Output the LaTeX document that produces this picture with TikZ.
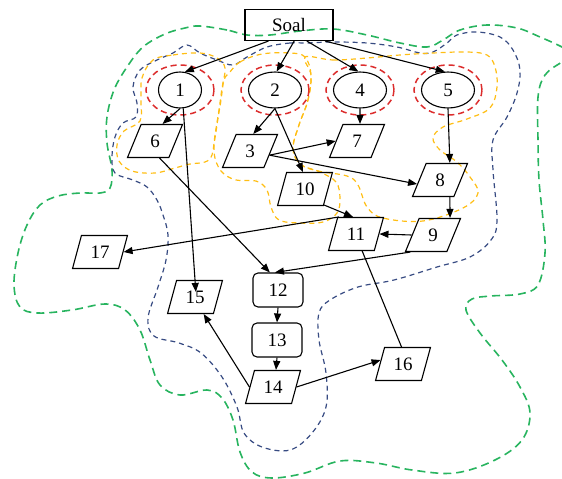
\documentclass[tikz,border=0pt]{standalone}
\usepackage{fontspec}
\setmainfont{Liberation Serif}
\usetikzlibrary{shapes.geometric,arrows.meta}
\definecolor{ringred}{RGB}{220,45,45}
\definecolor{zoneyellow}{RGB}{255,190,20}
\definecolor{zoneblue}{RGB}{55,75,130}
\definecolor{zonegreen}{RGB}{40,180,95}

\begin{document}
\begin{tikzpicture}
[x=1pt,y=-1pt,line width=1.1pt,
every node/.style={draw,line width=1.1pt,inner sep=0pt,font=\fontsize{19}{21}\selectfont},
para/.style={trapezium,trapezium left angle=70,trapezium right angle=110,trapezium stretches=true,minimum width=55pt,minimum height=33pt},
circ/.style={ellipse,minimum width=53pt,minimum height=36pt},
box/.style={rectangle,rounded corners=5pt,minimum width=50pt,minimum height=34pt},
link/.style={-{Triangle[length=9pt,width=7pt]}},
ring/.style={ringred,dash pattern=on 6pt off 4pt,line width=1.5pt},
zone/.style={#1,dash pattern=on 5pt off 4pt,line width=1.2pt}]
\useasboundingbox (0,0) rectangle (562,479);
\clip (0,0) rectangle (562,479);
% zones
\draw[zone=zonegreen,dash pattern=on 8pt off 5pt,line width=1.6pt] plot[smooth cycle,tension=0.6] coordinates {(247,35) (227,30) (200,26) (185,28) (165,34) (143,47) (127,67) (114,90) (107,117) (107,143) (112,170) (110,188) (100,193) (80,193) (58,196) (40,205) (27,225) (18,253) (14,285) (20,307) (38,313) (72,310) (105,304) (125,310) (140,330) (150,360) (160,385) (180,395) (207,390) (222,398) (233,420) (240,452) (252,472) (272,478) (305,473) (340,461) (376,463) (412,470) (455,473) (495,460) (522,440) (530,413) (520,387) (502,360) (480,333) (466,310) (472,299) (491,296) (520,294) (538,285) (545,253) (543,220) (539,180) (538,140) (538,97) (545,75) (562,62) (575,55) (562,47) (540,37) (517,28) (487,25) (460,30) (443,40) (427,47) (400,43) (367,35) (333,29) (300,31) (270,35)};
\draw[zone=zoneblue] plot[smooth cycle,tension=0.6] coordinates {(307,43) (290,43) (267,47) (247,57) (233,65) (217,60) (200,53) (187,45) (173,53) (157,60) (140,70) (133,87) (137,103) (136,117) (123,123) (115,137) (112,157) (115,173) (133,180) (147,187) (157,200) (163,215) (168,235) (166,260) (158,287) (148,318) (154,336) (179,343) (201,353) (222,377) (237,407) (244,433) (262,447) (290,450) (312,433) (326,407) (326,373) (319,340) (319,313) (330,300) (358,287) (394,280) (437,267) (470,257) (491,240) (497,220) (493,170) (493,140) (507,117) (517,93) (520,70) (513,50) (500,37) (477,32) (457,35) (447,43) (433,52) (420,53) (397,47) (367,43) (333,42)};
\draw[zone=zoneyellow] plot[smooth cycle,tension=0.6] coordinates {(153,60) (173,55) (200,53) (217,58) (225,68) (222,88) (219,110) (215,135) (212,155) (205,162) (190,164) (175,168) (155,173) (132,171) (119,161) (117,145) (124,131) (140,121) (141,100) (142,78)};
\draw[zone=zoneyellow] plot[smooth cycle,tension=0.6] coordinates {(230,72) (240,62) (262,54) (290,53) (305,57) (311,75) (308,100) (299,125) (293,148) (300,164) (320,172) (336,182) (340,198) (337,213) (323,222) (300,223) (279,220) (271,207) (267,190) (256,181) (236,180) (221,171) (214,152) (217,125) (221,100) (224,80)};
\draw[zone=zoneyellow] plot[smooth cycle,tension=0.6] coordinates {(305,57) (333,60) (367,58) (400,55) (433,53) (467,52) (487,55) (495,67) (497,87) (490,108) (467,119) (443,127) (433,138) (440,150) (457,162) (470,177) (478,193) (463,208) (423,221) (383,218) (367,207) (358,185) (347,176) (318,171) (300,164) (293,148) (299,125) (308,100) (311,75)};
% nodes
\node[minimum width=88pt,minimum height=31pt] (soal) at (289,25) {Soal};
\node[circ,minimum width=43pt] (n1) at (180,90) {1};
\node[circ] (n2) at (275,90) {2};
\node[circ] (n4) at (360,90) {4};
\node[circ] (n5) at (448,90) {5};
\node[para] (n6) at (155,141) {6};
\node[para] (n3) at (250,151) {3};
\node[para] (n7) at (357,141) {7};
\node[para] (n10) at (305,189) {10};
\node[para] (n8) at (440,180) {8};
\node[para] (n11) at (356,234) {11};
\node[para] (n9) at (433,235) {9};
\node[para] (n17) at (100,252) {17};
\node[box] (n12) at (278,290) {12};
\node[para] (n15) at (195,297) {15};
\node[box] (n13) at (277,340) {13};
\node[para] (n14) at (273,387) {14};
\node[para] (n16) at (403,364) {16};
\foreach \n in {n1,n2,n4,n5}
\draw[ring] (\n) ellipse [x radius=34pt,y radius=25pt];
% links
\foreach \from/\to in {soal.218/n1.75,soal.288/n2.85,soal.318/n4.95,soal.336/n5.100,n1.south/n6.66,n2.south/n3.79,n2.south/n10.97,n4.south/n7.80,n5.south/n8.60,n3.348/n7.west,n3.348/n8.190,n10.320/n11.100,n8.300/n9.45,n9.west/n11.east,n11.north west/n17.east,n9.217/n12.100,n6.285/n12.115,n12.south/n13.north,n13.south/n14.80,n14.west/n15.297,n14.east/n16.170}
\draw[link] (\from) -- (\to);
\draw[link,shorten >=-12pt] (n1.280) -- (n15.north);
\draw (n11.290) -- (n16.95);
\end{tikzpicture}
\end{document}
